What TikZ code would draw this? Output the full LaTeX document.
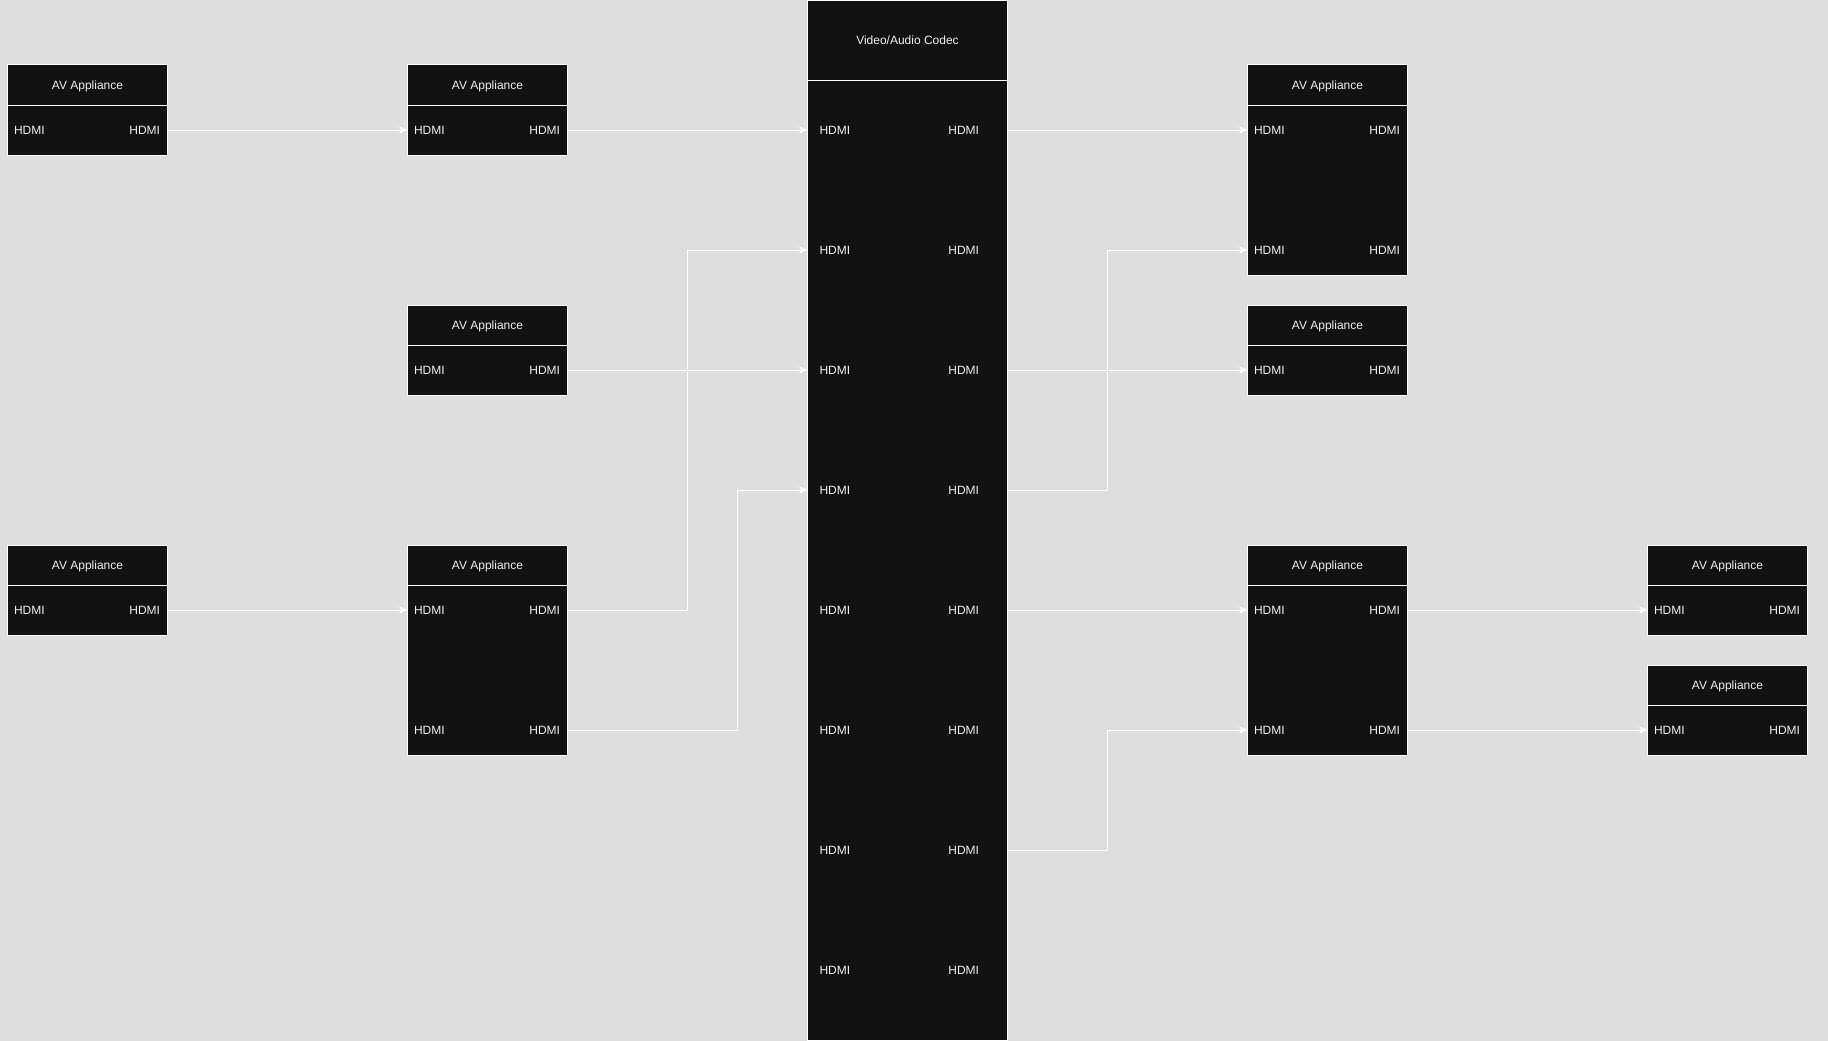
\documentclass[tikz,border=0pt]{standalone}
\usepackage{fontspec}
\setmainfont{Liberation Sans}
\usetikzlibrary{arrows.meta}
\definecolor{bgc}{HTML}{DEDEDE}
\definecolor{boxc}{HTML}{121212}
\definecolor{txtc}{HTML}{F0F0F0}
\begin{document}
\begin{tikzpicture}[x=1pt,y=-1pt,
  box/.style={draw=white, fill=boxc, line width=1pt, inner sep=0pt, outer sep=0pt,
    minimum width=160pt, anchor=north west, text=txtc, text depth=0pt, font=\fontsize{12}{14}\selectfont},
  hdr/.style={box, minimum height=40pt},
  bodyone/.style={box, minimum height=50pt},
  bodytwo/.style={box, minimum height=170pt},
  port/.style={inner sep=0pt, outer sep=0pt, text=txtc, font=\fontsize{12}{14}\selectfont},
  pl/.style={port, anchor=west},
  pr/.style={port, anchor=east},
  conn/.style={draw=white, line width=1pt, -{Stealth[length=8pt,width=7pt,inset=1.5pt]}}
]
\fill[bgc] (0,0) rectangle (1828,1041);

% ---------- column 1 ----------
\node[hdr] (a1h) at (7.5,65) {AV Appliance};
\node[bodyone] (a1b) at (7.5,105) {};
\node[pl] (a1L) at (14,130) {HDMI};
\node[pr] (a1R) at (160,130) {HDMI};

\node[hdr] (a5h) at (7.5,545) {AV Appliance};
\node[bodyone] (a5b) at (7.5,585) {};
\node[pl] (a5L) at (14,610) {HDMI};
\node[pr] (a5R) at (160,610) {HDMI};

% ---------- column 2 ----------
\node[hdr] (b1h) at (407.5,65) {AV Appliance};
\node[bodyone] (b1b) at (407.5,105) {};
\node[pl] (b1L) at (414,130) {HDMI};
\node[pr] (b1R) at (560,130) {HDMI};

\node[hdr] (b3h) at (407.5,305) {AV Appliance};
\node[bodyone] (b3b) at (407.5,345) {};
\node[pl] (b3L) at (414,370) {HDMI};
\node[pr] (b3R) at (560,370) {HDMI};

\node[hdr] (b5h) at (407.5,545) {AV Appliance};
\node[bodytwo] (b5b) at (407.5,585) {};
\node[pl] (b5L) at (414,610) {HDMI};
\node[pr] (b5R) at (560,610) {HDMI};
\node[pl] (b6L) at (414,730) {HDMI};
\node[pr] (b6R) at (560,730) {HDMI};

% ---------- codec ----------
\node[box, minimum width=200pt, minimum height=79pt] (ch) at (807.5,1) {Video/Audio Codec};
\node[box, minimum width=200pt, minimum height=960pt] (cb) at (807.5,80) {};
\foreach \i/\r in {1/130,2/250,3/370,4/490,5/610,6/730,7/850,8/970}{
  \node[pl] (c\i L) at (819.5,\r) {HDMI};
  \node[pr] (c\i R) at (979,\r) {HDMI};
}

% ---------- column 4 ----------
\node[hdr] (d1h) at (1247.5,65) {AV Appliance};
\node[bodytwo] (d1b) at (1247.5,105) {};
\node[pl] (d1L) at (1254,130) {HDMI};
\node[pr] (d1R) at (1400,130) {HDMI};
\node[pl] (d2L) at (1254,250) {HDMI};
\node[pr] (d2R) at (1400,250) {HDMI};

\node[hdr] (d3h) at (1247.5,305) {AV Appliance};
\node[bodyone] (d3b) at (1247.5,345) {};
\node[pl] (d3L) at (1254,370) {HDMI};
\node[pr] (d3R) at (1400,370) {HDMI};

\node[hdr] (d5h) at (1247.5,545) {AV Appliance};
\node[bodytwo] (d5b) at (1247.5,585) {};
\node[pl] (d5L) at (1254,610) {HDMI};
\node[pr] (d5R) at (1400,610) {HDMI};
\node[pl] (d6L) at (1254,730) {HDMI};
\node[pr] (d6R) at (1400,730) {HDMI};

% ---------- column 5 ----------
\node[hdr] (e5h) at (1647.5,545) {AV Appliance};
\node[bodyone] (e5b) at (1647.5,585) {};
\node[pl] (e5L) at (1654,610) {HDMI};
\node[pr] (e5R) at (1800,610) {HDMI};

\node[hdr] (e6h) at (1647.5,665) {AV Appliance};
\node[bodyone] (e6b) at (1647.5,705) {};
\node[pl] (e6L) at (1654,730) {HDMI};
\node[pr] (e6R) at (1800,730) {HDMI};

% ---------- elbow columns ----------
\coordinate (jA) at (687.5,0);
\coordinate (jB) at (737.5,0);
\coordinate (jC) at (1107.5,0);

% ---------- connectors ----------
\draw[conn] (a1b.east |- a1R) -- (b1b.west |- b1L);
\draw[conn] (b1b.east |- b1R) -- (cb.west |- c1L);
\draw[conn] (cb.east |- c1R) -- (d1b.west |- d1L);
\draw[conn] (b3b.east |- b3R) -- (cb.west |- c3L);
\draw[conn] (cb.east |- c3R) -- (d3b.west |- d3L);
\draw[conn] (cb.east |- c4R) -- (jC |- c4R) -- (jC |- d2L) -- (d1b.west |- d2L);
\draw[conn] (a5b.east |- a5R) -- (b5b.west |- b5L);
\draw[conn] (b5b.east |- b5R) -- (jA |- b5R) -- (jA |- c2L) -- (cb.west |- c2L);
\draw[conn] (b5b.east |- b6R) -- (jB |- b6R) -- (jB |- c4L) -- (cb.west |- c4L);
\draw[conn] (cb.east |- c5R) -- (d5b.west |- d5L);
\draw[conn] (cb.east |- c7R) -- (jC |- c7R) -- (jC |- d6L) -- (d5b.west |- d6L);
\draw[conn] (d5b.east |- d5R) -- (e5b.west |- e5L);
\draw[conn] (d5b.east |- d6R) -- (e6b.west |- e6L);
\end{tikzpicture}
\end{document}
